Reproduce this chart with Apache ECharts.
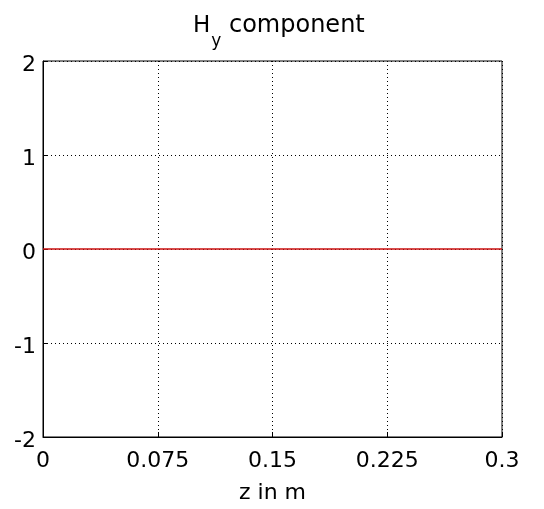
<!DOCTYPE html>
<html><head><meta charset="utf-8">
<script src="https://cdn.jsdelivr.net/npm/echarts@6/dist/echarts.min.js"></script>
<style>html,body{margin:0;padding:0;background:#fff}#c{width:544px;height:509px}</style>
</head><body><div id="c"></div>
<script>
var zValues = [0, 0.025, 0.05, 0.075, 0.1, 0.125, 0.15, 0.175, 0.2, 0.225, 0.25, 0.275, 0.3];
var hyValues = [0, 0, 0, 0, 0, 0, 0, 0, 0, 0, 0, 0, 0];
var xTicks = [0, 0.075, 0.15, 0.225, 0.3];
var yTicks = [-2, -1, 0, 1, 2];

var chart = echarts.init(document.getElementById('c'));
var font = 'DejaVu Sans, Liberation Sans, Arial, sans-serif';
chart.setOption({
  animation: false,
  backgroundColor: '#fff',
  title: {
    text: '{h|H}{s|y}{t| component}',
    left: 188, top: 6,
    textStyle: {
      fontWeight: 'normal',
      rich: {
        h: {fontSize: 23, fontFamily: font, color: '#000', fontWeight: 'normal', lineHeight: 30},
        s: {fontSize: 17, fontFamily: font, color: '#000', fontWeight: 'normal', padding: [32, 0, 0, 1], lineHeight: 30},
        t: {fontSize: 24, fontFamily: font, color: '#000', fontWeight: 'normal', lineHeight: 30}
      }
    }
  },
  grid: {left: 43, right: 42, top: 61, bottom: 68, show: true, borderColor: '#000', borderWidth: 1},
  xAxis: {
    type: 'value', min: 0, max: 0.3, interval: 0.075,
    name: 'z in m', nameLocation: 'middle', nameGap: 45,
    nameTextStyle: {fontSize: 22, fontFamily: font, color: '#000'},
    axisLine: {show: true, onZero: false, lineStyle: {color: '#000'}},
    axisTick: {show: true, inside: true, length: 5, lineStyle: {color: '#000'}},
    axisLabel: {fontSize: 22, fontFamily: font, color: '#000', margin: 13,
      formatter: function (v) { var r = Math.round(v * 1000) / 1000; return xTicks.indexOf(r) >= 0 ? String(r) : ''; }},
    splitLine: {show: true, lineStyle: {color: '#000', type: [1, 3], width: 1}}
  },
  yAxis: {
    type: 'value', min: -2, max: 2, interval: 1,
    axisLine: {show: true, onZero: false, lineStyle: {color: '#000'}},
    axisTick: {show: true, inside: true, length: 5, lineStyle: {color: '#000'}},
    axisLabel: {fontSize: 22, fontFamily: font, color: '#000', margin: 7, verticalAlign: 'top', lineHeight: 8,
      formatter: function (v) { return yTicks.indexOf(v) >= 0 ? String(v) : ''; }},
    splitLine: {show: true, lineStyle: {color: '#000', type: [1, 3], width: 1}}
  },
  series: [{
    type: 'line', data: zValues.map(function (z, i) { return [z, hyValues[i]]; }),
    showSymbol: false, symbol: 'none',
    lineStyle: {color: '#cc1010', width: 1.5}, z: 3
  }]
});
</script></body></html>
